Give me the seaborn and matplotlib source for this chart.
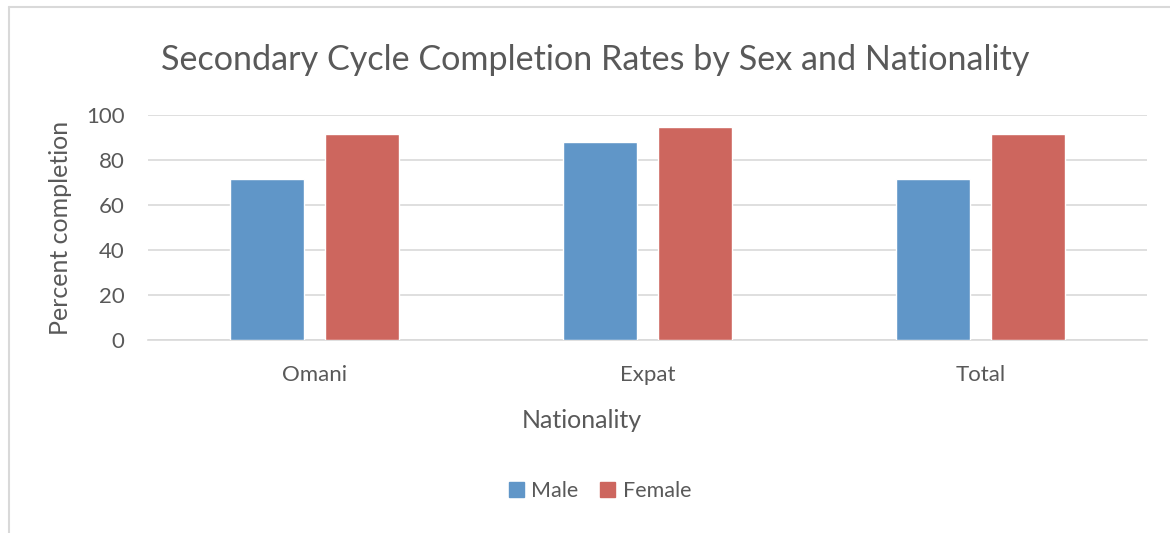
import matplotlib
matplotlib.use("Agg")
import matplotlib.pyplot as plt
import seaborn as sns
import pandas as pd
from matplotlib.lines import Line2D

nationality = ["Omani", "Expat", "Total"]
male = [71.4, 87.8, 71.7]
female = [91.4, 94.8, 91.4]
sexes = ["Male", "Female"]
colors = {"Male": "#6096c8", "Female": "#cd665e"}

df = pd.DataFrame({
    "Nationality": nationality * 2,
    "Sex": ["Male"] * 3 + ["Female"] * 3,
    "Value": male + female,
})

sns.set_theme(style="white")
plt.rcParams["font.family"] = ["Lato", "DejaVu Sans"]

W, H = 1170, 533
fig = plt.figure(figsize=(W / 100, H / 100), dpi=100)
ax = fig.add_axes([148 / W, 1 - 340 / H, (1147 - 148) / W, (340 - 115) / H])

sns.barplot(data=df, x="Nationality", y="Value", hue="Sex", order=nationality,
            hue_order=sexes, palette=colors, width=0.57, gap=0.22,
            saturation=1, ax=ax, legend=False, zorder=3)

ax.set_ylim(0, 100)
ax.set_xlim(-0.5, 2.5)
ax.set_yticks(range(0, 101, 20))
ax.yaxis.grid(True, color="#d9d9d9", linewidth=1.2, zorder=0)
ax.set_axisbelow(True)
for s in ["top", "right", "left"]:
    ax.spines[s].set_visible(False)
ax.spines["bottom"].set_color("#d9d9d9")
ax.spines["bottom"].set_linewidth(1.2)
ax.tick_params(axis="both", length=0, labelsize=16, labelcolor="#595959")
ax.tick_params(axis="y", pad=17)
ax.tick_params(axis="x", pad=18)
ax.set_xlabel("Nationality", fontsize=18, color="#595959", labelpad=17,
              x=(582 - 148) / 999, ha="center")
ax.set_ylabel("Percent completion", fontsize=18, color="#595959", labelpad=10)

fig.text(595 / W, 1 - 60 / H, "Secondary Cycle Completion Rates by Sex and Nationality",
         ha="center", va="center", fontsize=24.6, color="#595959")

handles = [plt.Rectangle((0, 0), 1, 1, color=colors[s]) for s in sexes]
fig.legend(handles, sexes, loc="center", bbox_to_anchor=(600 / W, 1 - 491 / H),
           ncol=2, frameon=False, fontsize=15.5, labelcolor="#595959",
           handlelength=0.7, handleheight=0.7, handletextpad=0.35, columnspacing=1.0)

# chart border
fig.add_artist(Line2D([8.5 / W, 8.5 / W], [0, 1 - 6.5 / H], transform=fig.transFigure,
                      color="#d9d9d9", linewidth=1.5))
fig.add_artist(Line2D([8.5 / W, 1], [1 - 6.5 / H, 1 - 6.5 / H], transform=fig.transFigure,
                      color="#d9d9d9", linewidth=1.5))

fig.savefig("out.png", dpi=100, facecolor="white")
